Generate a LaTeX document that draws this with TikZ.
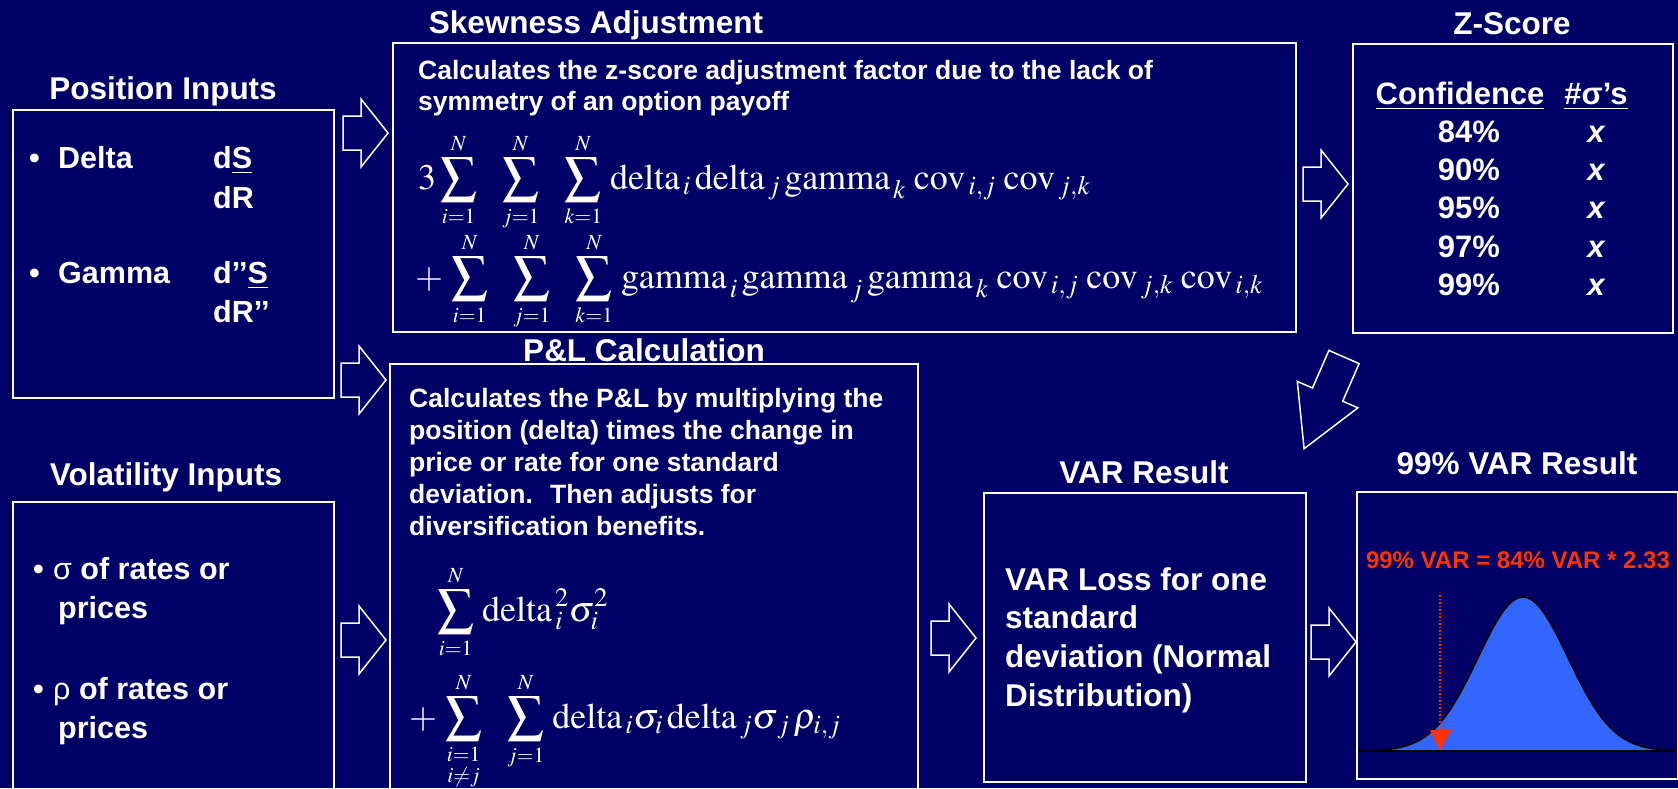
\documentclass[tikz,border=0pt]{standalone}
\usepackage{amsmath}
\usepackage{mathptmx}
\usepackage{fontspec}
\setmainfont{Liberation Serif}
\newfontfamily\arial{Liberation Sans}
\definecolor{navy}{RGB}{0,0,102}
\definecolor{redtxt}{RGB}{255,51,0}
\definecolor{bellblue}{RGB}{51,102,255}
\newcommand{\bigsum}[2]{\sum\limits_{\scriptscriptstyle #1}^{\scriptscriptstyle #2}}
\newcommand{\gp}{\hspace{4pt}}
\tikzset{
 panel/.style={draw=white, line width=1.5pt, inner sep=0, anchor=north west},
 title/.style={anchor=base, text=white, inner sep=0, font=\arial\bfseries\fontsize{31.5}{36}\selectfont},
 body/.style={anchor=base west, text=white, inner sep=0, font=\arial\bfseries\fontsize{30.5}{36}\selectfont},
 smalltxt/.style={anchor=base west, text=white, inner sep=0, font=\arial\bfseries\fontsize{26.5}{32}\selectfont},
 ztxt/.style={anchor=base, text=white, inner sep=0, font=\arial\bfseries\fontsize{31}{36}\selectfont},
 vartxt/.style={anchor=base west, text=white, inner sep=0, font=\arial\bfseries\fontsize{31.5}{38}\selectfont},
 redeq/.style={anchor=base, text=redtxt, inner sep=0, font=\arial\bfseries\fontsize{24}{28}\selectfont},
 fml/.style={anchor=base west, text=white, inner sep=0, font=\fontsize{36}{40}\selectfont},
 arrowline/.style={draw=white, line width=1.5pt, line join=miter},
 blockarrow/.pic={\draw[arrowline] (0,-17) -- (18,-17) -- (18,-34) -- (45,0) -- (18,34) -- (18,17) -- (0,17) -- cycle;}
}
\begin{document}
\begin{tikzpicture}[x=1pt,y=-1pt]
\fill[navy] (0,0) rectangle (1678,788);
\useasboundingbox (0,0) rectangle (1678,788);
\clip (0,0) rectangle (1678,788);

% boxes
\node[panel, minimum width=321pt, minimum height=288pt] (pos) at (12,109) {};
\node[panel, minimum width=321pt, minimum height=310pt] (vol) at (12,501) {};
\node[panel, minimum width=903pt, minimum height=289pt] (skew) at (392,42) {};
\node[panel, minimum width=528pt, minimum height=440pt] (pl) at (389,363) {};
\node[panel, minimum width=320pt, minimum height=289pt] (zs) at (1352,43) {};
\node[panel, minimum width=322pt, minimum height=289pt] (var) at (983,492) {};
\node[panel, minimum width=321pt, minimum height=287pt] (v99) at (1356,491) {};

% titles
\node[title] (tpos) at (163,99) {Position Inputs};
\node[title] (tvol) at (166,485) {Volatility Inputs};
\node[title] (tskew) at (596,33) {Skewness Adjustment};
\node[title] (tpl) at (644,361) {P\&L Calculation};
\node[title] (tzs) at (1512,34) {Z-Score};
\node[title] (tvar) at (1144,483) {VAR Result};
\node[title] (tv99) at (1517,474) {99\% VAR Result};

% position inputs
\node[body] (bd) at (29,168) {•};
\node[body] (delta) at (58,168) {Delta};
\node[body] (ds) at (213,168) {d\underline{S}};
\node[body] (dr) at (213,208) {dR};
\node[body] (bg) at (29,283) {•};
\node[body] (gamma) at (58,283) {Gamma};
\node[body] (dds) at (213,283) {d’’\underline{S}};
\node[body] (ddr) at (213,322) {dR’’};

% volatility inputs
\node[body] (bs) at (33,579) {•};
\node[body] (sig) at (53,579) {{\mdseries σ} of rates or};
\node[body] (pr1) at (58,618) {prices};
\node[body] (br) at (33,699) {•};
\node[body] (rho) at (53,699) {{\mdseries ρ} of rates or};
\node[body] (pr2) at (58,738) {prices};

% skewness text
\node[smalltxt] (sk1) at (418,79) {Calculates the z-score adjustment factor due to the lack of};
\node[smalltxt] (sk2) at (418,110) {symmetry of an option payoff};
\node[fml] (f1) at (418,189) {$\displaystyle 3\bigsum{i=1}{N}\hspace{21pt}\bigsum{j=1}{N}\hspace{21pt}\bigsum{k=1}{N}\gp\mathrm{delta}_{\,i}\gp\mathrm{delta}_{\,j}\gp\mathrm{gamma}_{\,k}\;\mathrm{cov}_{\,i,j}\;\mathrm{cov}_{\,j,k}$};
\node[fml] (f2) at (415,288) {$\displaystyle {+}\,\bigsum{i=1}{N}\hspace{21pt}\bigsum{j=1}{N}\hspace{21pt}\bigsum{k=1}{N}\gp\mathrm{gamma}_{\,i}\gp\mathrm{gamma}_{\,j}\gp\mathrm{gamma}_{\,k}\;\mathrm{cov}_{\,i,j}\;\mathrm{cov}_{\,j,k}\;\mathrm{cov}_{\,i,k}$};

% P&L text
\node[smalltxt] (pl1) at (409,407) {Calculates the P\&L by multiplying the};
\node[smalltxt] (pl2) at (409,439) {position (delta) times the change in};
\node[smalltxt] (pl3) at (409,471) {price or rate for one standard};
\node[smalltxt] (pl4) at (409,503) {deviation.~ Then adjusts for};
\node[smalltxt] (pl5) at (409,535) {diversification benefits.};
\node[fml] (p1) at (437,621) {$\displaystyle\bigsum{i=1}{N}\gp\mathrm{delta}_{\,i}^{\,2}\sigma_i^2$};
\node[fml] (p2) at (409,728) {$\displaystyle {+}\,\sum\limits_{\substack{\scriptscriptstyle i=1\\ \scriptscriptstyle i\neq j}}^{\scriptscriptstyle N}\hspace{21pt}\bigsum{j=1}{N}\gp\mathrm{delta}_{\,i}\sigma_i\gp\mathrm{delta}_{\,j}\sigma_{\,j}\gp\rho_{i,j}$};

% Z-score table
\node[ztxt] (hconf) at (1460,104) {\underline{Confidence}};
\node[ztxt] (hsig) at (1596,104) {\underline{\#σ’s}};
\node[ztxt] (c84) at (1469,142) {84\%};
\node[ztxt] (c90) at (1469,180) {90\%};
\node[ztxt] (c95) at (1469,218) {95\%};
\node[ztxt] (c97) at (1469,257) {97\%};
\node[ztxt] (c99) at (1469,295) {99\%};
\node[ztxt] (x84) at (1596,142) {\itshape x};
\node[ztxt] (x90) at (1596,180) {\itshape x};
\node[ztxt] (x95) at (1596,218) {\itshape x};
\node[ztxt] (x97) at (1596,257) {\itshape x};
\node[ztxt] (x99) at (1596,295) {\itshape x};

% VAR result text
\node[vartxt] (vr1) at (1005,590) {VAR Loss for one};
\node[vartxt] (vr2) at (1005,628) {standard};
\node[vartxt] (vr3) at (1005,667) {deviation (Normal};
\node[vartxt] (vr4) at (1005,706) {Distribution)};

% 99% VAR chart
\node[redeq] (eq) at (1518,568) {99\% VAR = 84\% VAR * 2.33};
\fill[bellblue] (1358,751) -- plot[domain=1358:1675, samples=120] (\x,{751-154*exp(-0.5*((\x-1523)/45)^2)}) -- (1675,751) -- cycle;
\draw[black, line width=1.6pt] plot[domain=1358:1675, samples=120] (\x,{751-154*exp(-0.5*((\x-1523)/45)^2)});
\draw[black, line width=2pt] (1358,751) -- (1675,751);
\coordinate (vtop) at (1440,595);
\coordinate (vbot) at (1440,730);
\draw[redtxt, dotted, line width=1.5pt] (vtop) -- (vbot);
\fill[redtxt] (1430,730) -- (1451,730) -- (1440,751) -- cycle;

% block arrows
\pic at (343,133) {blockarrow};
\pic at (341,380) {blockarrow};
\pic at (341,640) {blockarrow};
\pic at (1303,184) {blockarrow};
\pic at (931,638) {blockarrow};
\pic at (1311,642) {blockarrow};
\draw[arrowline] (1328.9,350.4) -- (1359.1,363.6) -- (1342.7,401.2) -- (1357.9,407.8) -- (1304.1,448.7) -- (1297.3,381.4) -- (1312.5,388) -- cycle;
\end{tikzpicture}
\end{document}
